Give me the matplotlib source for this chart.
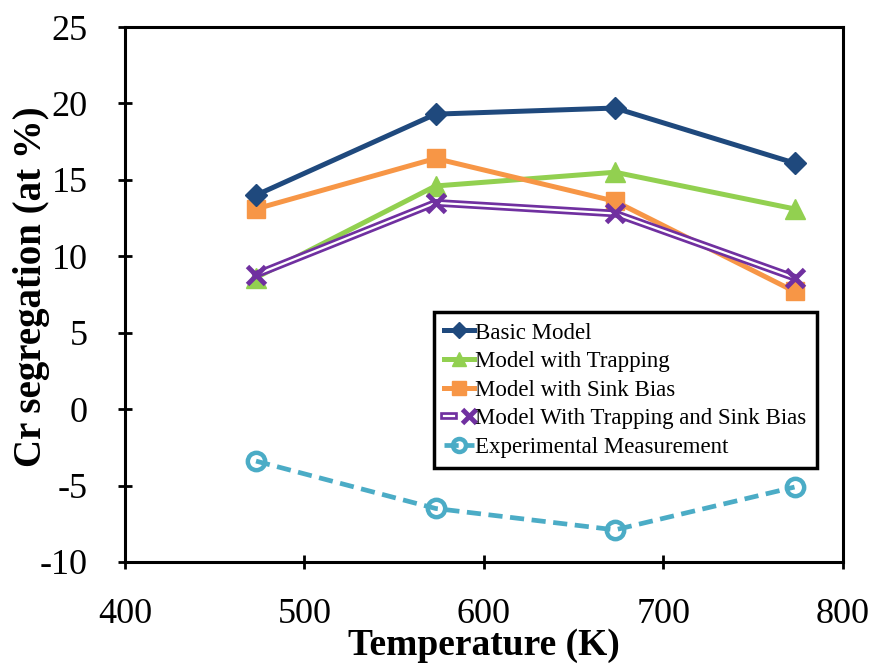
import matplotlib.pyplot as plt
import matplotlib.patheffects as pe
from matplotlib.legend_handler import HandlerTuple

plt.rcParams['font.family'] = 'Liberation Serif'
plt.rcParams['axes.unicode_minus'] = False

# Cr segregation vs. irradiation temperature
temperature = [473, 573, 673, 773]
basic_model = [14.0, 19.3, 19.7, 16.1]
model_trapping = [8.6, 14.6, 15.5, 13.1]
model_sink_bias = [13.1, 16.4, 13.6, 7.7]
model_trap_sink = [8.8, 13.5, 12.8, 8.6]
experimental = [-3.4, -6.5, -7.9, -5.1]

fig = plt.figure(figsize=(8.76, 6.69), dpi=100)
ax = fig.add_axes([0.1427, 0.16, 0.8196, 0.7996])

ax.plot(temperature, basic_model, color='#1F497D', lw=3.6, marker='D',
        ms=11.5, label='Basic Model', zorder=5)
ax.plot(temperature, model_trapping, color='#92D050', lw=3.6, marker='^',
        ms=14, label='Model with Trapping', zorder=3)
ax.plot(temperature, model_sink_bias, color='#F79646', lw=3.6, marker='s',
        ms=13, label='Model with Sink Bias', zorder=4)

# double purple line: thin white core over a wide purple stroke
purple = '#7030A0'
ts_line, = ax.plot(temperature, model_trap_sink, color='white', lw=1.6,
                   path_effects=[pe.Stroke(linewidth=5.5, foreground=purple), pe.Normal()],
                   zorder=6)
ts_mark, = ax.plot(temperature, model_trap_sink, ls='none', marker='x', ms=12.5,
                   mew=3.5, color=purple, zorder=7)

exp_line, = ax.plot(temperature, experimental, color='#4BACC6', lw=3.4,
                    ls=(0, (3, 1.6)), marker='o', ms=12.5, mew=3.2,
                    mfc='none', label='Experimental Measurement', zorder=5)

ax.set_xlim(400, 800)
ax.set_ylim(-10, 25)
ax.set_xticks([400, 500, 600, 700, 800])
ax.set_yticks(range(-10, 26, 5))

for side in ['left', 'right', 'top', 'bottom']:
    ax.spines[side].set_linewidth(2.2)
ax.tick_params(axis='both', direction='inout', length=10, width=2,
               labelsize=26)
ax.tick_params(axis='x', pad=21)
ax.tick_params(axis='y', pad=22)

ax.set_xlabel('Temperature (K)', fontsize=27, fontweight='bold')
ax.xaxis.set_label_coords(0.5, -0.124)
ax.set_ylabel('Cr segregation (at %)', fontsize=28, fontweight='bold')
ax.yaxis.set_label_coords(-0.104, 0.514)

handles, labels = ax.get_legend_handles_labels()
handles.insert(3, (ts_line, ts_mark))
labels.insert(3, 'Model With Trapping and Sink Bias')
leg = ax.legend(handles, labels, loc='upper left', bbox_to_anchor=(0.430, 0.467),
                fontsize=16.5, frameon=True, fancybox=False, edgecolor='black',
                framealpha=1, handlelength=1.3, handletextpad=0.05,
                labelspacing=0.33, borderpad=0.45, borderaxespad=0,
                markerscale=0.75,
                handler_map={tuple: HandlerTuple(ndivide=None)})
leg.get_frame().set_linewidth(2.5)

fig.savefig('out.png', dpi=100)
